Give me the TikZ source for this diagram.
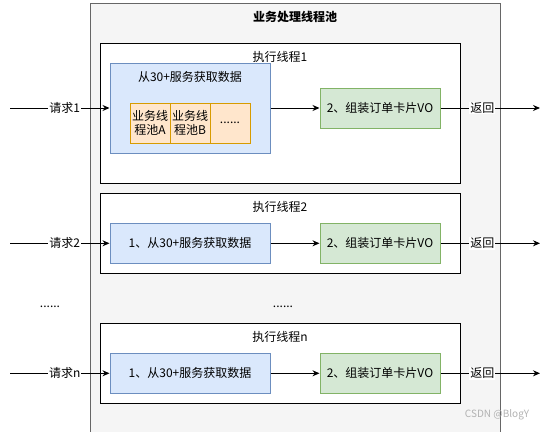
\documentclass[tikz,border=0pt]{standalone}
\usepackage{fontspec}
\setmainfont{Noto Sans CJK SC}
\usetikzlibrary{arrows.meta}
\definecolor{poolfill}{HTML}{F5F5F5}
\definecolor{poolline}{HTML}{666666}
\definecolor{fetchfill}{HTML}{DAE8FC}
\definecolor{fetchline}{HTML}{6C8EBF}
\definecolor{subfill}{HTML}{FFE6CC}
\definecolor{subline}{HTML}{D79B00}
\definecolor{buildfill}{HTML}{D5E8D4}
\definecolor{buildline}{HTML}{82B366}
\tikzset{
  box/.style={rectangle, draw, line width=1pt, inner sep=0pt, align=center},
  thread/.style={box, fill=white, minimum width=360pt},
  fetch/.style={box, draw=fetchline, fill=fetchfill, minimum width=160pt, minimum height=40pt},
  subpool/.style={box, draw=subline, fill=subfill, minimum width=40pt, minimum height=40pt},
  build/.style={box, draw=buildline, fill=buildfill, minimum width=120pt, minimum height=40pt},
  tag/.style={fill=white, inner sep=1pt},
  flow/.style={->, line width=1pt}
}

\begin{document}
\begin{tikzpicture}[x=1pt, y=-1pt, font=\fontsize{12}{14}\selectfont, >={Stealth[length=7pt,width=6pt]}]
\useasboundingbox (0,0) rectangle (546,431);
\clip (0,0) rectangle (546,431);

% Pool
\draw[draw=poolline, fill=poolfill, line width=1pt] (90,3) rectangle (500,445);
\node[font=\fontsize{12}{14}\selectfont\bfseries] (pooltitle) at (295,17) {业务处理线程池};

% Thread 1
\node[thread, minimum height=140pt] (t1) at (280,113) {};
\node (t1title) at ([yshift=-14pt]t1.north) {执行线程1};
\node[fetch, minimum height=90pt] (f1) at (190,108) {};
\node (f1title) at ([yshift=-14pt]f1.north) {从30+服务获取数据};
\node[subpool] (pa) at (150,123) {业务线\\程池A};
\node[subpool] (pb) at (190,123) {业务线\\程池B};
\node[subpool] (pc) at (230,123) {......};
\node[build] (g1) at (380,108) {2、组装订单卡片VO};

% Thread 2
\node[thread, minimum height=80pt] (t2) at (280,233.3) {};
\node (t2title) at ([yshift=-14pt]t2.north) {执行线程2};
\node[fetch] (f2) at (190,243.3) {1、从30+服务获取数据};
\node[build] (g2) at (380,243.3) {2、组装订单卡片VO};

% Dots
\node (dotsl) at (50,307) {......};
\node (dotsm) at (283,307) {......};

% Thread n
\node[thread, minimum height=80pt] (tn) at (280,363.3) {};
\node (tntitle) at ([yshift=-14pt]tn.north) {执行线程n};
\node[fetch] (fn) at (190,373.3) {1、从30+服务获取数据};
\node[build] (gn) at (380,373.3) {2、组装订单卡片VO};

% Requests
\coordinate (r1) at (10,108);
\coordinate (r2) at (10,243.3);
\coordinate (rn) at (10,373.3);
\draw[flow] (r1) -- node[tag, pos=0.55] {请求1} (f1.west);
\draw[flow] (r2) -- node[tag, pos=0.55] {请求2} (f2.west);
\draw[flow] (rn) -- node[tag, pos=0.55] {请求n} (fn.west);

% Fetch to build
\draw[flow] (f1) -- (g1);
\draw[flow] (f2) -- (g2);
\draw[flow] (fn) -- (gn);

% Returns
\coordinate (o1) at (540,108);
\coordinate (o2) at (540,243.3);
\coordinate (on) at (540,373.3);
\draw[flow] (g1.east) -- node[tag, pos=0.42] {返回} (o1);
\draw[flow] (g2.east) -- node[tag, pos=0.42] {返回} (o2);
\draw[flow] (gn.east) -- node[tag, pos=0.42] {返回} (on);

% Watermark
\node[text=black!30, font=\fontsize{10}{12}\selectfont] (mark) at (497,415) {CSDN @BlogY};
\end{tikzpicture}
\end{document}
